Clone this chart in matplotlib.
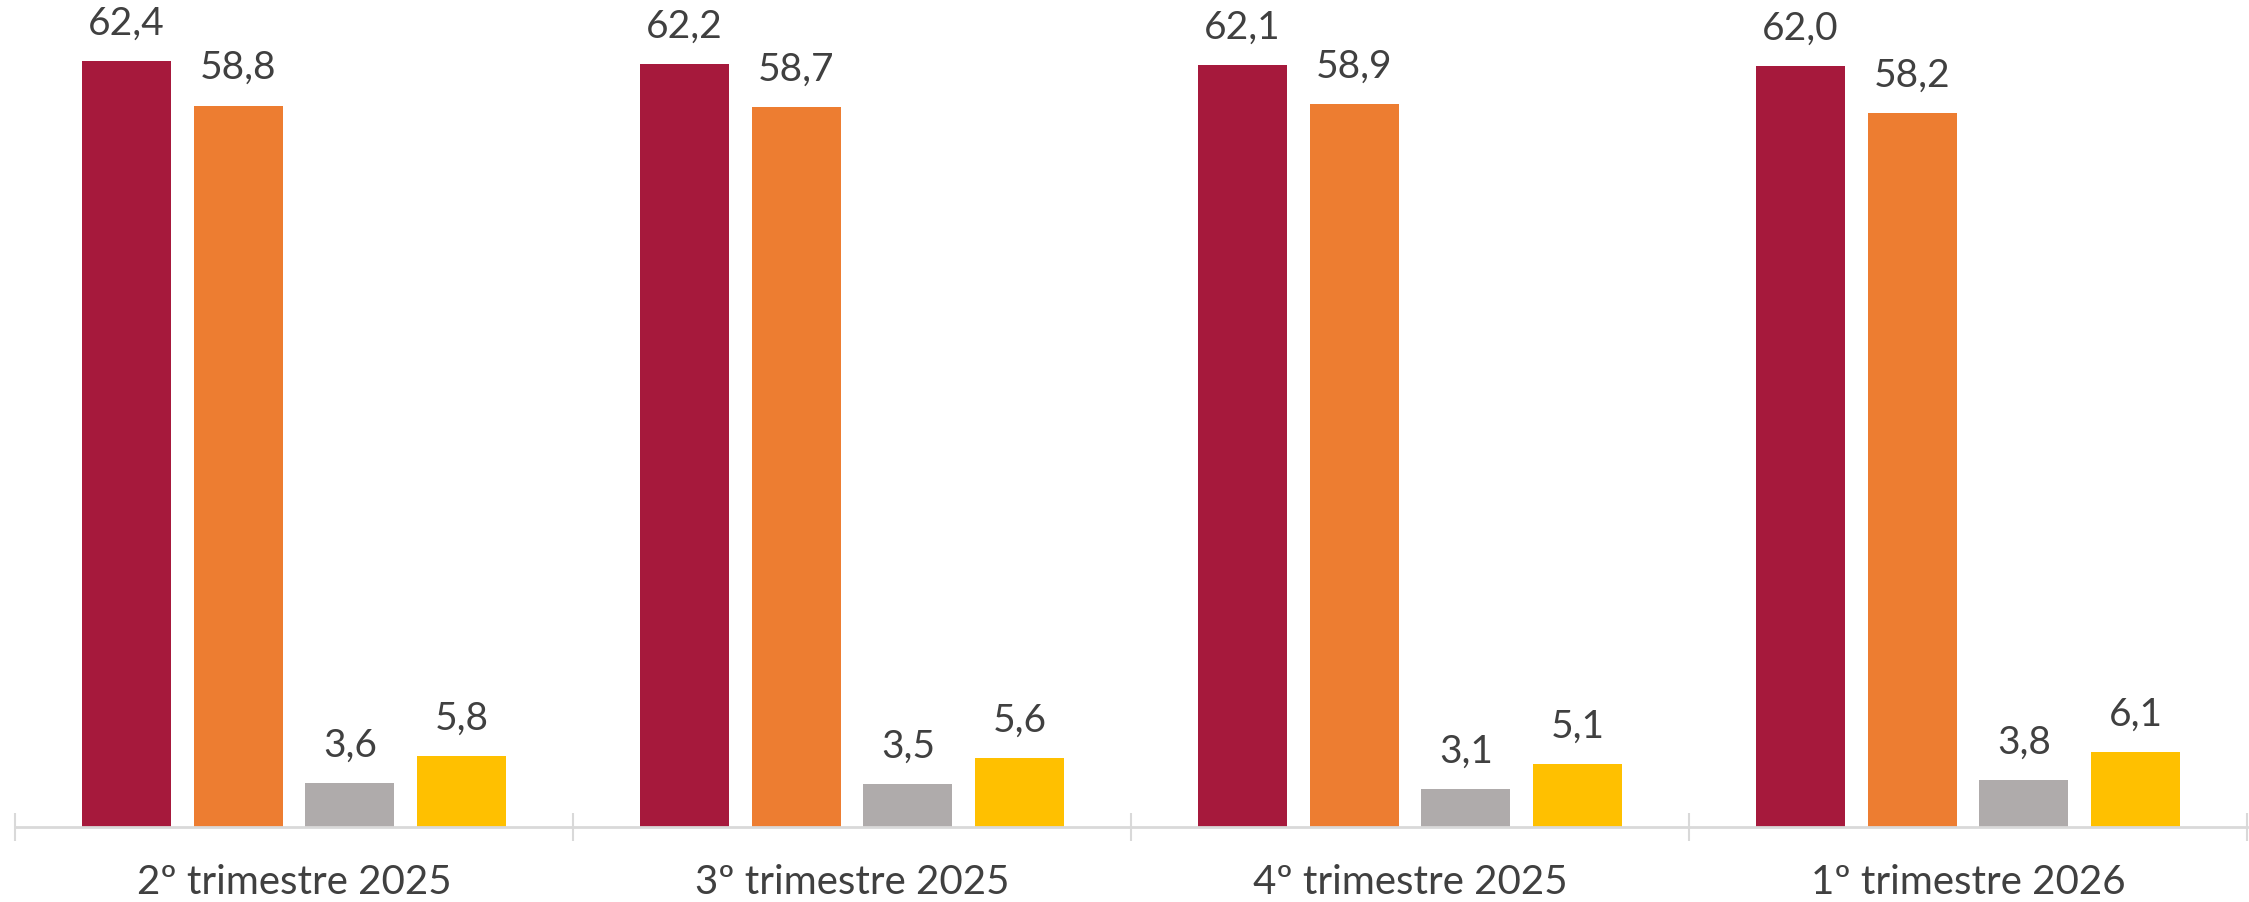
"""
Grouped bars per quarter, four indicators each, value labels on top.
"""

import matplotlib.pyplot as plt
import numpy as np

quarters = ["2º trimestre 2025", "3º trimestre 2025",
            "4º trimestre 2025", "1º trimestre 2026"]
serie_a = [62.4, 62.2, 62.1, 62.0]
serie_b = [58.8, 58.7, 58.9, 58.2]
serie_c = [3.6, 3.5, 3.1, 3.8]
serie_d = [5.8, 5.6, 5.1, 6.1]

colors = ["#A6193C", "#ED7D31", "#AFABAB", "#FFC000"]
TEXT = "#404040"

plt.rcParams["font.family"] = ["Lato", "DejaVu Sans"]

fig = plt.figure(figsize=(22.49, 9.02), dpi=100)
ax = fig.add_axes([15 / 2249, 75 / 902, 2232 / 2249, 827 / 902])

x = np.arange(len(quarters))
width = 0.16
offsets = [-0.3, -0.1, 0.1, 0.3]
for vals, off, col in zip([serie_a, serie_b, serie_c, serie_d], offsets, colors):
    bars = ax.bar(x + off, vals, width=width, color=col, zorder=2)
    for b, v in zip(bars, vals):
        ax.annotate(f"{v:.1f}".replace(".", ","),
                    (b.get_x() + b.get_width() / 2, v),
                    xytext=(0, 14), textcoords="offset points",
                    ha="center", va="bottom", fontsize=28, color=TEXT)

ax.set_xlim(-0.5, len(quarters) - 0.5)
ax.set_ylim(0, 67.4)

for s in ["top", "right", "left"]:
    ax.spines[s].set_visible(False)
ax.spines["bottom"].set_color("#D9D9D9")
ax.spines["bottom"].set_linewidth(2)
ax.set_yticks([])

# group separators as major ticks, quarter names as minor tick labels
ax.set_xticks(np.arange(-0.5, len(quarters)), minor=False)
ax.set_xticklabels([])
ax.tick_params(axis="x", which="major", direction="inout", length=20,
               width=1.5, color="#D9D9D9")
ax.set_xticks(x, minor=True)
ax.set_xticklabels(quarters, minor=True, fontsize=29, color=TEXT)
ax.tick_params(axis="x", which="minor", length=0, pad=27)

fig.savefig("out.png", dpi=100, facecolor="white")
